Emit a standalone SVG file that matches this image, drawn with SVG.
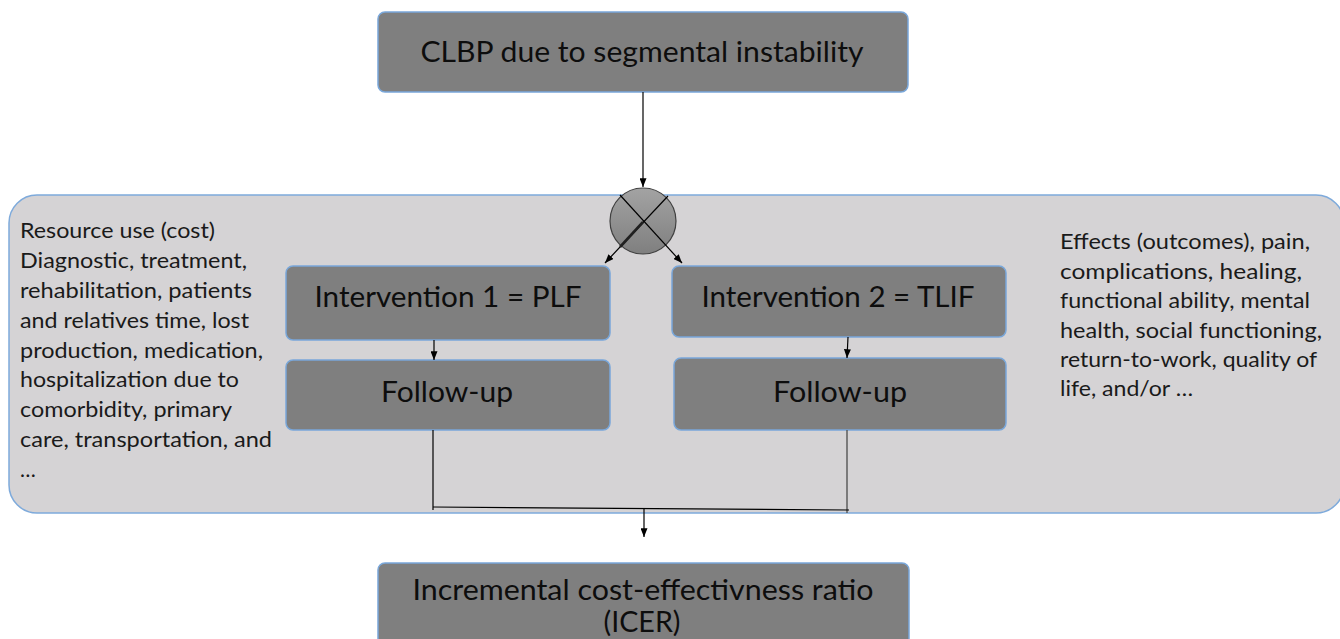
<svg xmlns="http://www.w3.org/2000/svg" width="1340" height="639" viewBox="0 0 1340 639">
<defs>
<style>
.box{fill:#7f7f7f;stroke:#79a7da;stroke-width:1.5}
.bt{font-family:Lato,"Liberation Sans",sans-serif;font-size:28px;fill:#0d0d0d;text-anchor:middle}
.pt{font-family:Lato,"Liberation Sans",sans-serif;font-size:21px;fill:#1a1a1a}
.ln{stroke:#000;stroke-width:1.2;fill:none}
.ar{stroke:#000;stroke-width:1.2;fill:none;marker-end:url(#ah)}
</style>
<marker id="ah" viewBox="0 0 10 8" refX="10" refY="4" markerWidth="9" markerHeight="7" markerUnits="userSpaceOnUse" orient="auto">
<path d="M0,0 L10,4 L0,8 z" fill="#000"/>
</marker>
<linearGradient id="cg" x1="0" y1="0" x2="0" y2="1">
<stop offset="0" stop-color="#a3a3a3"/>
<stop offset="1" stop-color="#7f7f7f"/>
</linearGradient>
</defs>
<rect width="1340" height="639" fill="#fff"/>

<g id="panel">
<rect x="9" y="195" width="1335" height="318" rx="28" ry="28" fill="#d5d3d5" stroke="#7eaadb" stroke-width="1.5"/>
<text class="pt" x="20" y="238" textLength="195" lengthAdjust="spacingAndGlyphs">Resource use (cost)</text>
<text class="pt" x="20" y="268" textLength="227" lengthAdjust="spacingAndGlyphs">Diagnostic, treatment,</text>
<text class="pt" x="20" y="298" textLength="232" lengthAdjust="spacingAndGlyphs">rehabilitation, patients</text>
<text class="pt" x="20" y="328" textLength="229" lengthAdjust="spacingAndGlyphs">and relatives time, lost</text>
<text class="pt" x="20" y="358" textLength="243" lengthAdjust="spacingAndGlyphs">production, medication,</text>
<text class="pt" x="20" y="387" textLength="219" lengthAdjust="spacingAndGlyphs">hospitalization due to</text>
<text class="pt" x="20" y="417" textLength="212" lengthAdjust="spacingAndGlyphs">comorbidity, primary</text>
<text class="pt" x="20" y="447" textLength="252" lengthAdjust="spacingAndGlyphs">care, transportation, and</text>
<text class="pt" x="20" y="477">…</text>
<text class="pt" x="1060" y="249" textLength="250" lengthAdjust="spacingAndGlyphs">Effects (outcomes), pain,</text>
<text class="pt" x="1060" y="279" textLength="242" lengthAdjust="spacingAndGlyphs">complications, healing,</text>
<text class="pt" x="1060" y="308" textLength="250" lengthAdjust="spacingAndGlyphs">functional ability, mental</text>
<text class="pt" x="1060" y="338" textLength="262" lengthAdjust="spacingAndGlyphs">health, social functioning,</text>
<text class="pt" x="1060" y="367" textLength="257" lengthAdjust="spacingAndGlyphs">return-to-work, quality of</text>
<text class="pt" x="1060" y="396" textLength="133" lengthAdjust="spacingAndGlyphs">life, and/or …</text>
</g>

<g id="top">
<rect class="box" x="378" y="12" width="530" height="80" rx="7"/>
<text class="bt" x="642" y="62" textLength="443" lengthAdjust="spacingAndGlyphs">CLBP due to segmental instability</text>
</g>

<g id="junction">
<circle cx="643" cy="221" r="33" fill="url(#cg)" stroke="#404040" stroke-width="1.2"/>
</g>

<g id="int1">
<rect class="box" x="286" y="266" width="324" height="74" rx="7"/>
<text class="bt" x="448" y="307" textLength="267" lengthAdjust="spacingAndGlyphs">Intervention 1 = PLF</text>
</g>
<g id="int2">
<rect class="box" x="672" y="266" width="334" height="71" rx="7"/>
<text class="bt" x="838" y="307" textLength="273" lengthAdjust="spacingAndGlyphs">Intervention 2 = TLIF</text>
</g>
<g id="fu1">
<rect class="box" x="286" y="360" width="324" height="70" rx="7"/>
<text class="bt" x="447" y="402" textLength="132" lengthAdjust="spacingAndGlyphs">Follow-up</text>
</g>
<g id="fu2">
<rect class="box" x="674" y="358" width="332" height="72" rx="7"/>
<text class="bt" x="840" y="402" textLength="134" lengthAdjust="spacingAndGlyphs">Follow-up</text>
</g>
<g id="icer">
<rect class="box" x="378" y="563" width="531" height="100" rx="7"/>
<text class="bt" x="643" y="600" textLength="461" lengthAdjust="spacingAndGlyphs">Incremental cost-effectivness ratio</text>
<text class="bt" x="642" y="632" textLength="77" lengthAdjust="spacingAndGlyphs">(ICER)</text>
</g>

<g id="connectors">
<line class="ar" x1="643" y1="92" x2="643" y2="187"/>
<line class="ar" x1="620" y1="195" x2="682" y2="263"/>
<line class="ar" x1="668" y1="196" x2="605" y2="263"/>
<line x1="643" y1="222" x2="620" y2="247" stroke="#202020" stroke-width="2.6"/>
<line class="ar" x1="434" y1="340" x2="434" y2="360"/>
<line class="ar" x1="848" y1="337" x2="847" y2="358"/>
<line class="ln" x1="433" y1="430" x2="433" y2="510"/>
<line x1="847" y1="430" x2="847" y2="513" stroke="#555" stroke-width="1.4"/>
<line class="ln" x1="433" y1="507" x2="849" y2="510"/>
<line class="ar" x1="644" y1="508" x2="644" y2="537"/>
</g>
</svg>
